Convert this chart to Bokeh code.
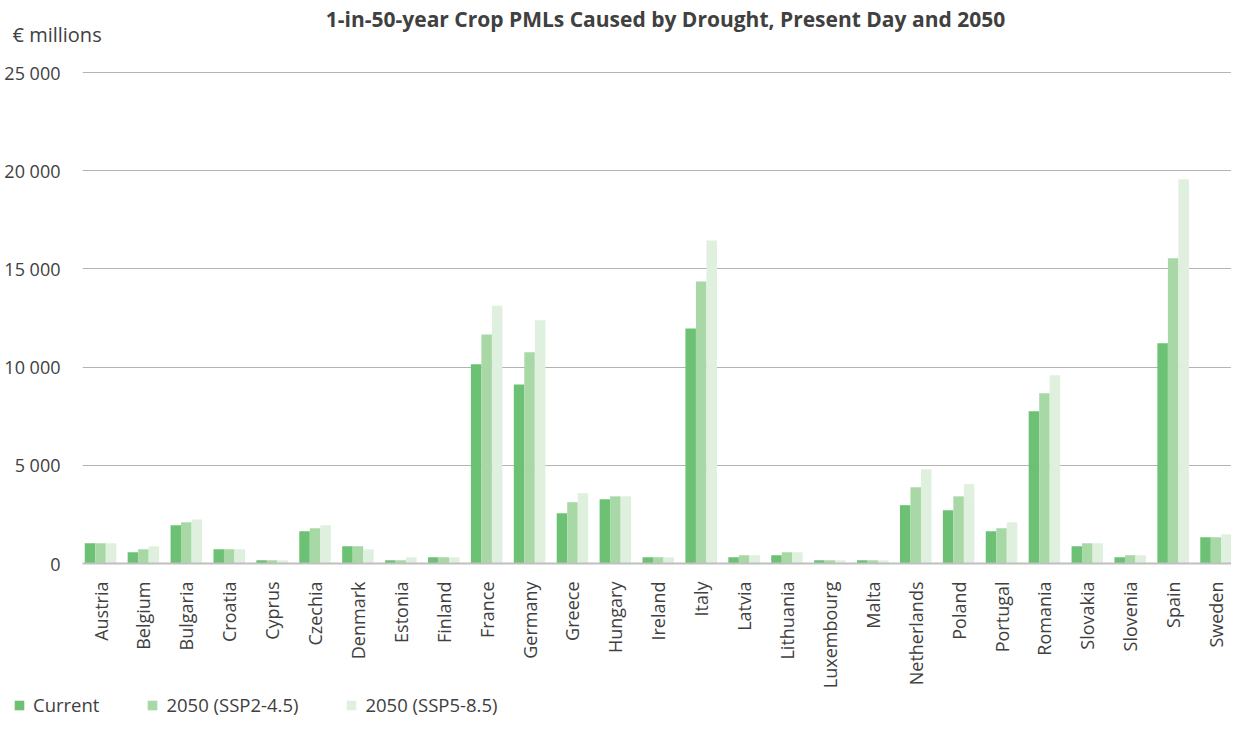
from bokeh.plotting import figure
from bokeh.models import (ColumnDataSource, Range1d, FixedTicker, Legend,
                          LegendItem, Label)
from bokeh.layouts import column
from bokeh.transform import dodge
from bokeh.embed import file_html
from bokeh.resources import INLINE
import math

countries = ["Austria", "Belgium", "Bulgaria", "Croatia", "Cyprus", "Czechia", "Denmark",
             "Estonia", "Finland", "France", "Germany", "Greece", "Hungary", "Ireland",
             "Italy", "Latvia", "Lithuania", "Luxembourg", "Malta", "Netherlands",
             "Poland", "Portugal", "Romania", "Slovakia", "Slovenia", "Spain", "Sweden"]
current = [1030, 575, 1950, 730, 170, 1640, 880, 170, 320, 10140, 9120, 2560, 3270, 320,
           11970, 320, 420, 170, 170, 2970, 2710, 1640, 7750, 880, 320, 11210, 1340]
ssp245 = [1030, 730, 2100, 730, 170, 1790, 880, 170, 320, 11660, 10750, 3120, 3420, 320,
          14360, 420, 575, 170, 170, 3880, 3420, 1790, 8670, 1030, 420, 15540, 1340]
ssp585 = [1030, 880, 2240, 730, 170, 1950, 730, 320, 320, 13130, 12380, 3580, 3420, 320,
          16450, 420, 575, 170, 170, 4800, 4040, 2100, 9580, 1030, 420, 19560, 1490]
y_ticks = [0, 5000, 10000, 15000, 20000, 25000]
y_tick_labels = ["0", "5 000", "10 000", "15 000", "20 000", "25 000"]
series_names = ["Current", "2050 (SSP2-4.5)", "2050 (SSP5-8.5)"]
colors = ["#6cc174", "#a8d8a5", "#dff0df"]
title_text = "1-in-50-year Crop PMLs Caused by Drought, Present Day and 2050"
unit_text = "€ millions"

FONT = "Open Sans"
TXT = "#404040"
W = 1231
H_HEAD, H_MAIN, H_FOOT = 48, 643, 26


def bare(height):
    f = figure(width=W, height=height, output_backend="svg", toolbar_location=None,
               x_axis_type=None, y_axis_type=None, title=None,
               x_range=Range1d(0, 1), y_range=Range1d(0, 1),
               min_border=0, min_border_left=0, min_border_right=0,
               min_border_top=0, min_border_bottom=0)
    f.outline_line_color = None
    f.grid.visible = False
    f.frame_align = False
    return f


# ---- header: title and unit label
head = bare(H_HEAD)
head.add_layout(Label(x=665, y=H_HEAD - 18, x_units="screen", y_units="screen",
                      text=title_text, text_font=FONT, text_font_size="21px",
                      text_font_style="bold", text_color=TXT,
                      text_align="center", text_baseline="alphabetic"))
head.add_layout(Label(x=12, y=H_HEAD - 34, x_units="screen", y_units="screen",
                      text=unit_text, text_font=FONT, text_font_size="20px",
                      text_color=TXT, text_align="left", text_baseline="alphabetic"))

# ---- main chart
idx = list(range(len(countries)))
src = ColumnDataSource(dict(idx=idx, country=countries, current=current,
                            ssp245=ssp245, ssp585=ssp585))

p = figure(width=W, height=H_MAIN, output_backend="svg", toolbar_location=None,
           x_range=Range1d(-0.42, 26.36), y_range=Range1d(0, 25051), title=None,
           min_border_left=82, min_border_right=0, min_border_top=23,
           min_border_bottom=128)
p.outline_line_color = None
p.frame_align = False

w = 0.245
p.vbar(x=dodge("idx", -w, range=p.x_range), top="current", width=w,
       source=src, color=colors[0], line_color=None)
p.vbar(x=dodge("idx", 0, range=p.x_range), top="ssp245", width=w,
       source=src, color=colors[1], line_color=None)
p.vbar(x=dodge("idx", w, range=p.x_range), top="ssp585", width=w,
       source=src, color=colors[2], line_color=None)

p.xaxis.ticker = FixedTicker(ticks=idx)
p.xaxis.major_label_overrides = {i: c for i, c in zip(idx, countries)}
p.xaxis.major_label_orientation = math.pi / 2
p.xaxis.major_tick_line_color = None
p.xaxis.minor_tick_line_color = None
p.xaxis.axis_line_color = "#bfbfbf"
p.xaxis.axis_line_width = 2
p.xaxis.major_label_standoff = 12
p.xaxis.major_label_text_font = FONT
p.xaxis.major_label_text_font_size = "18px"
p.xaxis.major_label_text_color = TXT
p.xgrid.grid_line_color = None

p.yaxis.ticker = FixedTicker(ticks=y_ticks)
p.yaxis.major_label_overrides = {t: l for t, l in zip(y_ticks, y_tick_labels)}
p.yaxis.axis_line_color = None
p.yaxis.major_tick_line_color = None
p.yaxis.minor_tick_line_color = None
p.yaxis.major_label_standoff = 16
p.yaxis.major_label_text_font = FONT
p.yaxis.major_label_text_font_size = "18px"
p.yaxis.major_label_text_color = TXT
p.ygrid.grid_line_color = "#b3b3b3"
p.ygrid.grid_line_width = 1

# ---- legend strip (zero-size proxy bars carry the legend swatches)
foot = bare(H_FOOT)
lr = [foot.vbar(x=[0], top=[0], width=0, color=c, line_color=None) for c in colors]
legend = Legend(items=[LegendItem(label=n, renderers=[r]) for n, r in zip(series_names, lr)],
                location=(13, 0), orientation="horizontal",
                padding=0, margin=0, spacing=47, label_standoff=8,
                glyph_width=12, glyph_height=12, label_height=18,
                label_text_font=FONT, label_text_font_size="18.5px",
                label_text_color=TXT, border_line_color=None,
                background_fill_alpha=0)
foot.add_layout(legend)

layout = column(head, p, foot, spacing=0)
open("out.html", "w").write(file_html(layout, INLINE))
